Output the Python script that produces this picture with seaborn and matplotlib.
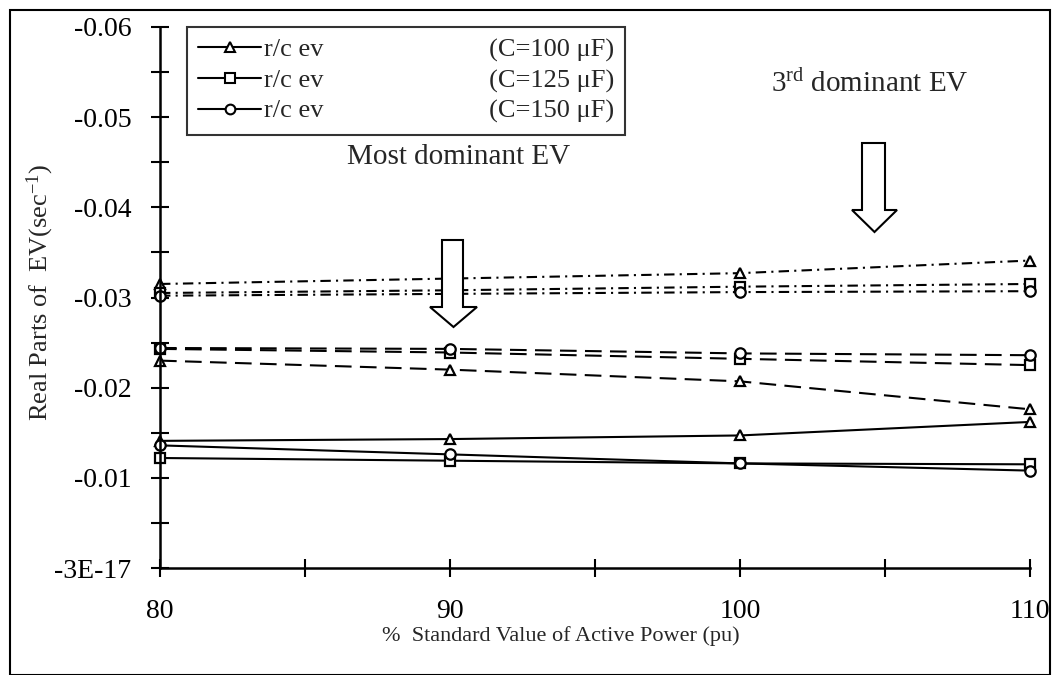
import numpy as np
import pandas as pd
import matplotlib
matplotlib.use("Agg")
import matplotlib.pyplot as plt
import seaborn as sns
from matplotlib.lines import Line2D
from matplotlib.patches import Polygon, Rectangle

# ---------------- data ----------------
power = [80, 90, 100, 110]
cap_labels = ["(C=100 \u03bcF)", "(C=125 \u03bcF)", "(C=150 \u03bcF)"]
x_tick_labels = ["80", "", "90", "", "100", "", "110"]
y_tick_labels = ["-3E-17", "", "-0.01", "", "-0.02", "", "-0.03", "", "-0.04", "", "-0.05", "", "-0.06"]

# 3rd dominant EV (dash-dot)
third_c100 = [-0.0315, -0.0321, -0.0327, -0.0341]
third_c125 = [-0.0305, -0.0308, -0.0312, -0.0315]
third_c150 = [-0.0302, -0.0304, -0.0306, -0.0307]
# 2nd group (dashed)
second_c100 = [-0.0230, -0.0220, -0.0207, -0.0176]
second_c125 = [-0.0243, -0.0239, -0.0232, -0.0225]
second_c150 = [-0.0244, -0.0243, -0.0238, -0.0236]
# most dominant EV (solid)
most_c100 = [-0.0141, -0.0143, -0.0147, -0.0162]
most_c125 = [-0.0122, -0.0119, -0.0116, -0.0115]
most_c150 = [-0.0136, -0.0126, -0.0116, -0.0108]

sns.set_style("ticks")
plt.rcParams["font.family"] = ["Liberation Serif", "DejaVu Serif"]
plt.rcParams["mathtext.fontset"] = "custom"
plt.rcParams["mathtext.rm"] = "Liberation Serif"
plt.rcParams["mathtext.it"] = "Liberation Serif:italic"

W, H = 1061, 675
fig = plt.figure(figsize=(W / 100, H / 100), dpi=100)
ax = fig.add_axes([160 / W, 1 - 568 / H, (1030 - 160) / W, (568 - 27) / H])

markers = ["^", "s", "o"]
groups = [
    ([third_c100, third_c125, third_c150], (0, (5, 2.5, 1, 2.5))),
    ([second_c100, second_c125, second_c150], (0, (8, 4))),
    ([most_c100, most_c125, most_c150], "-"),
]
for series, ls in groups:
    for vals, mk in zip(series, markers):
        df = pd.DataFrame({"power": power, "value": vals})
        sns.lineplot(data=df, x="power", y="value", ax=ax, color="black",
                     linestyle=ls, linewidth=1.5, marker=mk, markersize=7.5,
                     markerfacecolor="white", markeredgecolor="black",
                     markeredgewidth=1.6, legend=False, clip_on=False)

ax.set_xlim(80, 110)
ax.set_ylim(0, -0.06)
ax.set_xticks(np.arange(80, 111, 5))
ax.set_xticklabels(x_tick_labels)
ax.set_yticks(np.arange(0, 13) * -0.005)
ax.set_yticklabels(y_tick_labels)
ax.set_xlabel("")
ax.set_ylabel("")
for s in ["top", "right"]:
    ax.spines[s].set_visible(False)
for s in ["left", "bottom"]:
    ax.spines[s].set_linewidth(1.8)
    ax.spines[s].set_color("black")
ax.tick_params(axis="both", direction="inout", length=13, width=1.5,
               labelsize=20, colors="black", bottom=True, left=True)
ax.tick_params(axis="x", pad=16)
ax.tick_params(axis="y", pad=14)
ax.set_facecolor("white")

# legend
handles = [Line2D([], [], color="black", lw=1.5, marker=m, markersize=7,
                  markerfacecolor="white", markeredgewidth=1.5) for m in markers]
labels = ["r/c ev" + " " * 25 + c for c in cap_labels]
leg = ax.legend(handles, labels, loc="upper left", bbox_to_anchor=((187 - 160) / 870, 1.0),
                frameon=True, fancybox=False, edgecolor="black", fontsize=19,
                handlelength=2.4, handletextpad=0.1, borderpad=0.42, borderaxespad=0,
                labelspacing=0.26)
leg.get_frame().set_linewidth(1.5)

def px(x, y):
    return (x / W, 1 - y / H)

# annotations
fig.text(*px(459, 157), "Most dominant EV", ha="center", va="center", fontsize=21)
fig.text(*px(870, 84), "3$^{\\mathrm{rd}}$ dominant EV", ha="center", va="center", fontsize=21)
fig.text(*px(40, 292), "Real Parts of  EV(sec$^{\\mathrm{-1}}$)", ha="center", va="center",
         rotation=90, fontsize=19)
fig.text(*px(561, 636), "%  Standard Value of Active Power (pu)", ha="center", va="center",
         fontsize=16)

def block_arrow(xl, xr, top, neck, hl, hr, tip):
    xc = (hl + hr) / 2
    pts = [px(xl, top), px(xr, top), px(xr, neck), px(hr, neck), px(xc, tip),
           px(hl, neck), px(xl, neck)]
    fig.patches.append(Polygon(pts, closed=True, facecolor="white", edgecolor="black",
                               lw=1.5, transform=fig.transFigure, zorder=5))

block_arrow(442, 463, 240, 307, 430, 477, 327)
block_arrow(862, 885, 143, 210, 852, 897, 232)

# outer border
fig.patches.append(Rectangle(px(10, 675), (1050 - 10) / W, (675 - 10) / H, fill=False,
                             edgecolor="black", lw=1.5, transform=fig.transFigure))

fig.savefig("out.png", dpi=100, facecolor="white")
